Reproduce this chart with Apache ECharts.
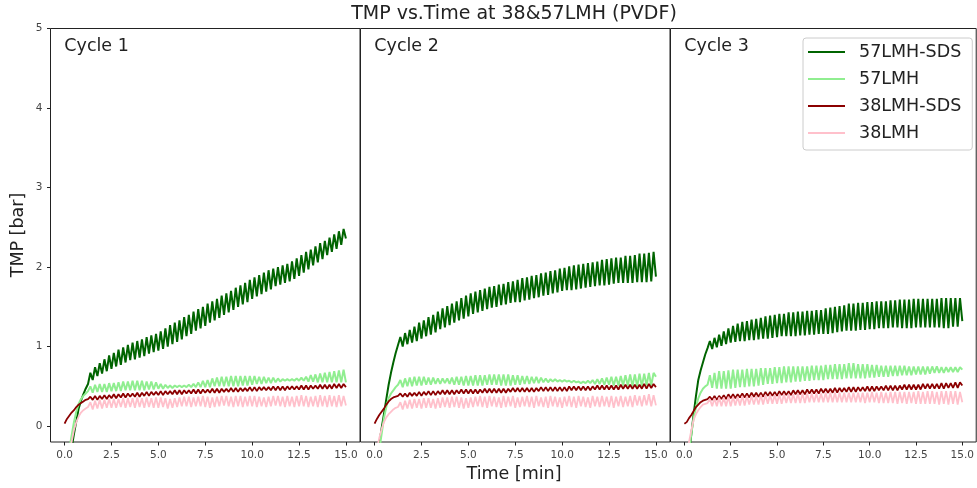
<!DOCTYPE html>
<html>
<head>
<meta charset="utf-8">
<script src="https://cdn.jsdelivr.net/npm/echarts@6/dist/echarts.min.js"></script>
<style>
html,body{margin:0;padding:0;background:#fff;}
#chart{width:977px;height:488px;}
</style>
</head>
<body>
<div id="chart"></div>
<script>
// ---- data ----
const seriesNames = ['57LMH-SDS', '57LMH', '38LMH-SDS', '38LMH'];
const cycleLabels = ['Cycle 1', 'Cycle 2', 'Cycle 3'];
const xTicks = [0, 2.5, 5, 7.5, 10, 12.5, 15];
const yTicks = [0, 1, 2, 3, 4, 5];

const time = [0,0.125,0.25,0.375,0.5,0.625,0.75,0.875,1,1.125,1.25,1.375,1.5,1.625,1.75,1.875,
  2,2.125,2.25,2.375,2.5,2.625,2.75,2.875,3,3.125,3.25,3.375,3.5,3.625,3.75,3.875,
  4,4.125,4.25,4.375,4.5,4.625,4.75,4.875,5,5.125,5.25,5.375,5.5,5.625,5.75,5.875,
  6,6.125,6.25,6.375,6.5,6.625,6.75,6.875,7,7.125,7.25,7.375,7.5,7.625,7.75,7.875,
  8,8.125,8.25,8.375,8.5,8.625,8.75,8.875,9,9.125,9.25,9.375,9.5,9.625,9.75,9.875,
  10,10.125,10.25,10.375,10.5,10.625,10.75,10.875,11,11.125,11.25,11.375,11.5,11.625,11.75,11.875,
  12,12.125,12.25,12.375,12.5,12.625,12.75,12.875,13,13.125,13.25,13.375,13.5,13.625,13.75,13.875,
  14,14.125,14.25,14.375,14.5,14.625,14.75,14.875,15];

// Cycle 1
const c1_57LMH_SDS = [-0.75,-0.6,-0.45,-0.28,-0.1,0.06,0.22,0.32,0.40,0.47,0.53,
  0.67,0.58,0.74,0.63,0.79,0.66,0.84,0.69,0.89,0.72,0.92,0.75,0.96,0.77,0.99,0.80,1.02,0.83,1.05,0.84,
  1.07,0.86,1.09,0.88,1.12,0.91,1.14,0.93,1.16,0.95,1.19,0.97,1.23,1.00,1.27,1.03,1.30,1.06,1.33,1.09,
  1.37,1.13,1.40,1.16,1.44,1.20,1.47,1.23,1.50,1.26,1.54,1.30,1.57,1.33,1.60,1.36,1.64,1.40,1.67,1.43,
  1.70,1.46,1.74,1.50,1.77,1.53,1.80,1.56,1.84,1.60,1.87,1.63,1.90,1.66,1.93,1.69,1.96,1.72,1.98,1.76,
  2.00,1.78,2.02,1.80,2.04,1.82,2.07,1.85,2.11,1.89,2.15,1.93,2.19,1.97,2.22,2.02,2.26,2.06,2.30,2.10,
  2.33,2.15,2.37,2.19,2.41,2.23,2.45,2.28,2.48,2.36];
const c1_57LMH = [-0.6,-0.45,-0.3,-0.12,0.05,0.18,0.28,0.34,0.38,0.41,0.44,
  0.50,0.42,0.52,0.43,0.53,0.43,0.53,0.43,0.54,0.44,0.54,0.44,0.55,0.44,0.56,0.45,0.56,0.45,0.57,0.45,
  0.57,0.45,0.57,0.45,0.56,0.46,0.56,0.46,0.55,0.47,0.53,0.47,0.52,0.48,0.51,0.48,0.51,0.49,0.51,0.49,
  0.51,0.49,0.52,0.49,0.53,0.49,0.55,0.49,0.57,0.49,0.58,0.49,0.60,0.50,0.61,0.50,0.62,0.50,0.62,0.50,
  0.63,0.50,0.63,0.50,0.63,0.51,0.63,0.51,0.63,0.52,0.63,0.53,0.62,0.53,0.62,0.54,0.61,0.54,0.61,0.55,
  0.60,0.56,0.59,0.57,0.59,0.57,0.59,0.57,0.60,0.57,0.61,0.57,0.62,0.56,0.64,0.56,0.65,0.55,0.66,0.55,
  0.67,0.55,0.68,0.55,0.69,0.55,0.70,0.55,0.71,0.55];
const c1_38LMH_SDS = [0.03,0.09,0.13,0.17,0.20,0.24,0.27,0.29,0.31,0.33,0.34,
  0.37,0.33,0.38,0.33,0.38,0.34,0.39,0.34,0.39,0.35,0.40,0.35,0.40,0.36,0.41,0.36,0.41,0.37,0.41,0.37,
  0.42,0.37,0.42,0.38,0.43,0.38,0.43,0.39,0.43,0.39,0.44,0.39,0.44,0.40,0.44,0.40,0.45,0.40,0.45,0.40,
  0.45,0.41,0.45,0.41,0.46,0.41,0.46,0.41,0.46,0.42,0.46,0.42,0.47,0.42,0.47,0.42,0.47,0.43,0.47,0.43,
  0.48,0.43,0.48,0.43,0.48,0.44,0.48,0.44,0.49,0.44,0.49,0.44,0.49,0.45,0.49,0.45,0.49,0.45,0.50,0.45,
  0.50,0.45,0.50,0.45,0.50,0.46,0.50,0.46,0.50,0.46,0.51,0.46,0.51,0.46,0.51,0.47,0.51,0.47,0.52,0.47,
  0.52,0.47,0.52,0.47,0.53,0.48,0.53,0.48,0.53,0.49];
const c1_38LMH = [-0.7,-0.52,-0.35,-0.2,-0.05,0.05,0.12,0.17,0.20,0.22,0.24,
  0.30,0.21,0.32,0.22,0.33,0.22,0.33,0.23,0.34,0.23,0.34,0.23,0.34,0.24,0.35,0.23,0.35,0.24,0.35,0.23,
  0.36,0.24,0.35,0.23,0.36,0.24,0.35,0.23,0.36,0.23,0.36,0.24,0.35,0.22,0.34,0.23,0.35,0.24,0.36,0.25,
  0.37,0.25,0.37,0.24,0.36,0.25,0.37,0.25,0.38,0.24,0.37,0.23,0.36,0.24,0.37,0.25,0.38,0.26,0.38,0.25,
  0.37,0.24,0.38,0.25,0.38,0.24,0.37,0.25,0.38,0.25,0.38,0.24,0.37,0.25,0.36,0.24,0.37,0.25,0.38,0.26,
  0.38,0.25,0.37,0.24,0.38,0.25,0.37,0.24,0.38,0.25,0.39,0.25,0.38,0.24,0.37,0.25,0.38,0.24,0.39,0.25,
  0.38,0.24,0.39,0.25,0.38,0.24,0.39,0.25,0.38,0.26];

// Cycle 2
const c2_57LMH_SDS = [-0.9,-0.55,-0.22,-0.03,0.15,0.34,0.52,0.67,0.80,0.92,1.02,
  1.12,1.00,1.17,1.03,1.21,1.05,1.25,1.07,1.30,1.10,1.33,1.13,1.37,1.15,1.40,1.18,1.44,1.22,1.48,1.24,
  1.51,1.27,1.54,1.30,1.57,1.33,1.61,1.35,1.64,1.38,1.67,1.41,1.69,1.43,1.71,1.45,1.73,1.47,1.75,1.49,
  1.76,1.50,1.78,1.52,1.79,1.53,1.81,1.55,1.82,1.56,1.84,1.56,1.86,1.58,1.87,1.59,1.89,1.61,1.90,1.62,
  1.92,1.64,1.93,1.65,1.95,1.67,1.96,1.68,1.98,1.70,1.99,1.71,2.01,1.71,2.02,1.72,2.03,1.73,2.04,1.74,
  2.05,1.75,2.06,1.76,2.07,1.77,2.09,1.77,2.10,1.78,2.11,1.79,2.12,1.80,2.12,1.80,2.14,1.80,2.14,1.80,
  2.15,1.81,2.17,1.81,2.17,1.81,2.18,1.82,2.19,1.88];
const c2_57LMH = [-0.8,-0.55,-0.3,-0.1,0.1,0.24,0.35,0.41,0.45,0.49,0.52,
  0.58,0.49,0.60,0.50,0.61,0.50,0.62,0.51,0.62,0.51,0.62,0.52,0.61,0.52,0.61,0.53,0.60,0.53,0.60,0.54,
  0.60,0.53,0.61,0.52,0.62,0.52,0.62,0.51,0.63,0.51,0.63,0.51,0.64,0.51,0.64,0.51,0.64,0.52,0.65,0.52,
  0.65,0.52,0.65,0.51,0.65,0.51,0.65,0.51,0.64,0.52,0.64,0.52,0.63,0.53,0.63,0.53,0.62,0.54,0.62,0.54,
  0.61,0.55,0.60,0.55,0.59,0.56,0.59,0.56,0.58,0.56,0.58,0.56,0.57,0.55,0.57,0.55,0.56,0.54,0.56,0.54,
  0.57,0.54,0.58,0.53,0.59,0.53,0.60,0.52,0.61,0.52,0.62,0.51,0.62,0.51,0.63,0.51,0.64,0.51,0.65,0.50,
  0.65,0.50,0.66,0.50,0.66,0.51,0.67,0.51,0.67,0.62];
const c2_38LMH_SDS = [0.03,0.09,0.14,0.18,0.22,0.27,0.31,0.34,0.36,0.37,0.38,
  0.41,0.37,0.41,0.37,0.42,0.38,0.42,0.38,0.43,0.38,0.43,0.39,0.44,0.39,0.44,0.39,0.44,0.40,0.45,0.40,
  0.45,0.40,0.45,0.40,0.45,0.41,0.46,0.41,0.46,0.41,0.46,0.41,0.46,0.41,0.46,0.42,0.47,0.42,0.47,0.42,
  0.47,0.42,0.47,0.42,0.47,0.42,0.47,0.43,0.48,0.43,0.48,0.43,0.48,0.43,0.48,0.43,0.48,0.43,0.48,0.44,
  0.49,0.44,0.49,0.44,0.49,0.44,0.49,0.44,0.49,0.44,0.49,0.44,0.50,0.45,0.50,0.45,0.50,0.45,0.50,0.45,
  0.50,0.45,0.50,0.46,0.51,0.46,0.51,0.46,0.51,0.46,0.51,0.46,0.51,0.46,0.52,0.47,0.52,0.47,0.52,0.47,
  0.52,0.47,0.52,0.47,0.53,0.47,0.53,0.48,0.53,0.49];
const c2_38LMH = [-0.5,-0.3,-0.15,-0.04,0.05,0.11,0.15,0.18,0.21,0.23,0.24,
  0.30,0.21,0.32,0.22,0.33,0.22,0.34,0.23,0.34,0.22,0.35,0.23,0.35,0.23,0.34,0.22,0.35,0.23,0.36,0.24,
  0.36,0.23,0.37,0.24,0.37,0.23,0.36,0.22,0.35,0.23,0.36,0.24,0.37,0.25,0.38,0.24,0.37,0.23,0.38,0.25,
  0.37,0.24,0.36,0.23,0.38,0.24,0.37,0.25,0.38,0.23,0.36,0.24,0.37,0.25,0.38,0.24,0.37,0.23,0.38,0.25,
  0.36,0.24,0.37,0.23,0.38,0.25,0.37,0.24,0.36,0.23,0.37,0.25,0.38,0.24,0.37,0.23,0.38,0.25,0.37,0.24,
  0.36,0.23,0.38,0.25,0.37,0.24,0.38,0.25,0.37,0.24,0.38,0.23,0.37,0.25,0.38,0.24,0.37,0.25,0.38,0.24,
  0.39,0.26,0.38,0.25,0.39,0.26,0.40,0.25,0.39,0.26];

// Cycle 3
const c3_57LMH_SDS = [-0.9,-0.6,-0.35,-0.1,0.15,0.38,0.58,0.70,0.80,0.90,0.98,
  1.07,0.97,1.11,0.99,1.15,1.01,1.19,1.03,1.23,1.05,1.26,1.06,1.29,1.07,1.31,1.07,1.32,1.08,1.34,1.08,
  1.35,1.09,1.36,1.10,1.38,1.10,1.39,1.11,1.40,1.12,1.41,1.13,1.41,1.13,1.43,1.13,1.43,1.13,1.44,1.14,
  1.44,1.14,1.45,1.15,1.45,1.15,1.46,1.16,1.46,1.16,1.48,1.16,1.49,1.17,1.50,1.18,1.51,1.19,1.52,1.20,
  1.54,1.20,1.54,1.20,1.55,1.21,1.55,1.21,1.56,1.22,1.56,1.22,1.57,1.23,1.57,1.23,1.57,1.23,1.58,1.24,
  1.58,1.24,1.59,1.23,1.59,1.23,1.59,1.23,1.60,1.24,1.60,1.24,1.60,1.24,1.60,1.24,1.60,1.24,1.60,1.24,
  1.61,1.23,1.61,1.23,1.61,1.25,1.61,1.25,1.61,1.32];
const c3_57LMH = [-0.8,-0.55,-0.3,-0.1,0.1,0.24,0.35,0.42,0.47,0.50,0.52,
  0.64,0.48,0.67,0.47,0.69,0.47,0.69,0.47,0.70,0.47,0.71,0.48,0.71,0.49,0.71,0.49,0.72,0.50,0.72,0.50,
  0.72,0.51,0.73,0.52,0.73,0.53,0.73,0.53,0.74,0.54,0.74,0.54,0.75,0.55,0.75,0.55,0.75,0.56,0.75,0.56,
  0.75,0.57,0.75,0.57,0.76,0.58,0.76,0.58,0.76,0.58,0.77,0.59,0.77,0.59,0.78,0.59,0.78,0.59,0.78,0.60,
  0.79,0.60,0.79,0.60,0.78,0.60,0.78,0.60,0.78,0.61,0.77,0.61,0.77,0.62,0.76,0.62,0.76,0.62,0.76,0.63,
  0.76,0.63,0.76,0.64,0.76,0.64,0.75,0.64,0.75,0.65,0.75,0.65,0.75,0.65,0.75,0.66,0.75,0.67,0.75,0.67,
  0.74,0.67,0.74,0.68,0.74,0.68,0.74,0.68,0.74,0.71];
const c3_38LMH_SDS = [0.03,0.05,0.10,0.14,0.19,0.24,0.27,0.30,0.32,0.33,0.34,
  0.37,0.33,0.38,0.33,0.38,0.34,0.39,0.34,0.40,0.35,0.40,0.35,0.40,0.36,0.41,0.36,0.41,0.36,0.42,0.37,
  0.42,0.37,0.42,0.37,0.43,0.38,0.43,0.38,0.43,0.38,0.44,0.39,0.44,0.39,0.44,0.39,0.45,0.40,0.45,0.40,
  0.45,0.40,0.46,0.41,0.46,0.41,0.46,0.41,0.47,0.42,0.47,0.42,0.47,0.42,0.48,0.42,0.48,0.43,0.48,0.43,
  0.49,0.43,0.49,0.43,0.49,0.44,0.49,0.44,0.50,0.44,0.50,0.44,0.50,0.45,0.50,0.45,0.51,0.45,0.51,0.45,
  0.51,0.45,0.51,0.46,0.52,0.46,0.52,0.46,0.52,0.46,0.52,0.46,0.53,0.47,0.53,0.47,0.53,0.47,0.53,0.47,
  0.54,0.47,0.54,0.48,0.54,0.48,0.55,0.48,0.55,0.51];
const c3_38LMH = [-0.6,-0.4,-0.2,-0.05,0.08,0.15,0.20,0.24,0.27,0.28,0.29,
  0.34,0.25,0.35,0.25,0.36,0.25,0.36,0.25,0.37,0.25,0.37,0.26,0.37,0.26,0.38,0.26,0.38,0.27,0.38,0.27,
  0.38,0.27,0.39,0.27,0.39,0.28,0.39,0.28,0.39,0.28,0.40,0.28,0.40,0.29,0.40,0.29,0.40,0.29,0.41,0.29,
  0.41,0.29,0.41,0.30,0.41,0.30,0.41,0.30,0.41,0.30,0.42,0.30,0.42,0.30,0.42,0.30,0.42,0.30,0.42,0.30,
  0.42,0.30,0.42,0.30,0.42,0.30,0.42,0.29,0.42,0.30,0.43,0.30,0.42,0.29,0.43,0.29,0.42,0.29,0.43,0.29,
  0.43,0.28,0.43,0.29,0.43,0.28,0.43,0.29,0.43,0.28,0.44,0.28,0.43,0.28,0.44,0.28,0.44,0.28,0.43,0.27,
  0.44,0.28,0.44,0.27,0.44,0.28,0.44,0.27,0.43,0.30];

const cycles = [
  [c1_57LMH_SDS, c1_57LMH, c1_38LMH_SDS, c1_38LMH],
  [c2_57LMH_SDS, c2_57LMH, c2_38LMH_SDS, c2_38LMH],
  [c3_57LMH_SDS, c3_57LMH, c3_38LMH_SDS, c3_38LMH]
];
const colors = ['#006400', '#90EE90', '#8B0000', '#FFC0CB'];

// ---- chart ----
const FONT = 'DejaVu Sans';
const gridLefts = [50.5, 360.5, 670.5];
const grids = gridLefts.map(l => ({
  left: l, top: 28.5, width: 309.5, height: 413.5,
  show: true, borderColor: '#222', borderWidth: 1, backgroundColor: 'transparent'
}));

const xAxes = gridLefts.map((l, i) => ({
  type: 'value', gridIndex: i, min: -0.75, max: 15.75,
  axisLine: { show: false, onZero: false },
  splitLine: { show: false },
  axisTick: { show: true, length: 3.5, customValues: xTicks, lineStyle: { color: '#222' } },
  axisLabel: { show: true, customValues: xTicks, formatter: v => v.toFixed(1), margin: 8,
    fontFamily: FONT, fontSize: 10.5, color: '#444' }
}));
const yAxes = gridLefts.map((l, i) => ({
  type: 'value', gridIndex: i, min: -0.2, max: 5,
  axisLine: { show: false, onZero: false },
  splitLine: { show: false },
  axisTick: { show: i === 0, length: 3.5, customValues: yTicks, lineStyle: { color: '#222' } },
  axisLabel: { show: i === 0, customValues: yTicks, margin: 8,
    fontFamily: FONT, fontSize: 10.5, color: '#444' }
}));

const lineWidths = [2, 2, 1.8, 1.8];
const series = [];
cycles.forEach((arrs, ci) => {
  arrs.forEach((vals, si) => {
    series.push({
      type: 'line', name: seriesNames[si], xAxisIndex: ci, yAxisIndex: ci,
      data: time.map((t, k) => [t, vals[k]]),
      showSymbol: false, symbol: 'none', clip: true,
      color: colors[si],
      lineStyle: { color: colors[si], width: lineWidths[si] },
      itemStyle: { color: colors[si] },
      z: 2 + si
    });
  });
});

const textStyleBase = { fontFamily: FONT, fill: '#222' };
const graphic = [
  { type: 'text', x: 514, y: 14, style: Object.assign({ text: 'TMP vs.Time at 38&57LMH (PVDF)', fontSize: 19,
      align: 'center', verticalAlign: 'middle', textAlign: 'center', textVerticalAlign: 'middle' }, textStyleBase) },
  { type: 'text', x: 514, y: 474, style: Object.assign({ text: 'Time [min]', fontSize: 17.5,
      align: 'center', verticalAlign: 'middle', textAlign: 'center', textVerticalAlign: 'middle' }, textStyleBase) },
  { type: 'text', x: 18, y: 235, rotation: Math.PI / 2, style: Object.assign({ text: 'TMP [bar]', fontSize: 17.5,
      align: 'center', verticalAlign: 'middle', textAlign: 'center', textVerticalAlign: 'middle' }, textStyleBase) }
];
cycleLabels.forEach((txt, i) => {
  graphic.push({ type: 'text', x: gridLefts[i] + 13.8, y: 46, style: Object.assign({ text: txt, fontSize: 17.5,
    align: 'left', verticalAlign: 'middle', textAlign: 'left', textVerticalAlign: 'middle' }, textStyleBase) });
});

const chart = echarts.init(document.getElementById('chart'), null, { renderer: 'canvas' });
chart.setOption({
  animation: false,
  backgroundColor: '#fff',
  grid: grids,
  xAxis: xAxes,
  yAxis: yAxes,
  legend: {
    data: seriesNames,
    orient: 'vertical', left: 803, top: 38,
    icon: 'rect', itemWidth: 37, itemHeight: 2, itemGap: 7,
    padding: [4, 11, 7, 5],
    borderColor: '#ccc', borderWidth: 1, borderRadius: 3,
    backgroundColor: 'rgba(255,255,255,0.8)',
    textStyle: { fontFamily: FONT, fontSize: 17.5, color: '#222', lineHeight: 20, padding: [0, 0, 0, 9] }
  },
  graphic: graphic,
  series: series
});
</script>
</body>
</html>
